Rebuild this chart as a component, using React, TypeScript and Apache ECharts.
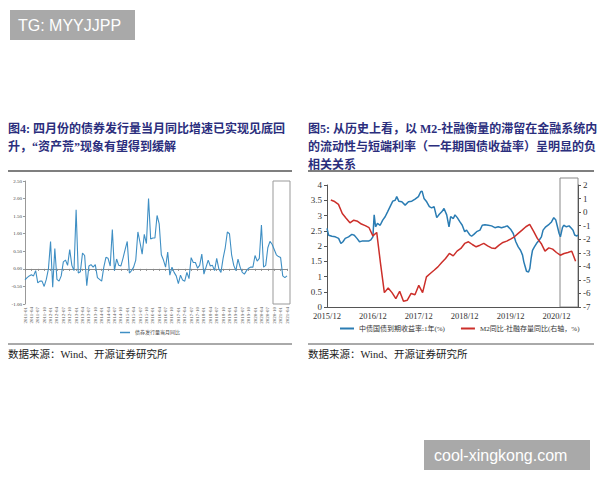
import React, { useEffect, useRef } from "react";
import * as echarts from "echarts";

// ---------- Left chart: bond issuance YoY (monthly, 2011-01 .. 2021-04)
const issueStartYear = 2011;
const issueCount = 124;
const issueMonths: string[] = [];
for (let i = 0; i < issueCount; i++) {
  const y = issueStartYear + Math.floor(i / 12);
  const m = (i % 12) + 1;
  issueMonths.push(`${y}-${m < 10 ? "0" + m : m}`);
}
const issueYoY = [
  -0.31, -0.25, -0.2, -0.17, -0.2, -0.05, -0.4, -0.35, -0.35, -0.5,
  -0.3, 0.0, 0.78, -0.52, 0.58, -0.3, -0.35, -0.2, 0.2, 0.25,
  0.1, 0.55, 0.1, -0.05, 1.68, -0.12, -0.08, 0.45, 0.38, -0.48,
  0.08, 0.12, 0.05, 0.12, -0.25, -0.3, -0.35, 0.05, 0.33, 0.3,
  0.08, 1.12, -0.05, 0.28, 0.1, 0.08, 0.3, 0.55, 0.78, -0.12,
  -0.05, 0.05, 0.25, 1.05, 0.75, 0.42, 0.98, 0.72, 2.0, 0.85,
  0.88, 0.88, 1.52, 1.28, 0.4, 0.25, 0.05, 0.48, -0.18, 0.05,
  -0.1, -0.2, -0.42, -0.18, -0.32, -0.35, -0.1, -0.28, 0.32, 0.18,
  0.18, 0.02, 0.1, 0.42, -0.15, 0.05, 0.25, 0.08, 0.1, -0.05,
  0.3, 0.0, -0.1, 0.3, 0.6, 1.05, 1.0, 0.4, 0.1, -0.05,
  0.28, 0.05, -0.1, -0.15, -0.05, 0.02, 0.05, 0.05, 0.38, 0.22,
  0.3, 1.25, 0.05, 0.1, 0.6, 0.78, 0.7, 0.55, 0.4, 0.35,
  0.32, -0.2, -0.25, -0.2,
];
const issueName = "债券发行量当月同比";

// ---------- Right chart: 1Y CGB yield (left axis) & M2-TSF gap (right axis)
const yieldName = "中债国债到期收益率:1年(%)";
const spreadName = "M2同比-社融存量同比(右轴，%)";
const yieldDates = [
  "2015-12-01", "2015-12-14", "2016-01-10", "2016-02-06", "2016-03-02", "2016-03-20", "2016-04-06", "2016-04-24",
  "2016-05-20", "2016-06-16", "2016-07-05", "2016-07-26", "2016-08-16", "2016-09-05", "2016-10-01", "2016-10-27",
  "2016-11-15", "2016-12-01", "2016-12-11", "2016-12-22", "2017-01-07", "2017-01-28", "2017-02-18", "2017-03-07",
  "2017-03-26", "2017-04-16", "2017-05-07", "2017-05-26", "2017-06-08", "2017-06-24", "2017-07-18", "2017-08-14",
  "2017-09-10", "2017-10-06", "2017-11-02", "2017-11-28", "2017-12-16", "2017-12-27", "2018-01-12", "2018-02-03",
  "2018-02-24", "2018-03-12", "2018-04-01", "2018-04-22", "2018-05-12", "2018-06-01", "2018-06-19", "2018-07-10",
  "2018-07-28", "2018-08-11", "2018-09-02", "2018-09-15", "2018-10-03", "2018-10-24", "2018-11-12", "2018-12-01",
  "2018-12-16", "2018-12-29", "2019-01-12", "2019-01-25", "2019-02-13", "2019-03-05", "2019-04-01", "2019-04-19",
  "2019-05-10", "2019-06-06", "2019-07-02", "2019-07-28", "2019-08-24", "2019-09-20", "2019-10-16", "2019-11-05",
  "2019-12-01", "2019-12-22", "2020-01-12", "2020-02-01", "2020-02-19", "2020-03-05", "2020-03-15", "2020-03-26",
  "2020-04-06", "2020-04-22", "2020-05-02", "2020-05-12", "2020-05-23", "2020-06-08", "2020-06-24", "2020-07-15",
  "2020-08-03", "2020-08-16", "2020-09-07", "2020-10-03", "2020-10-22", "2020-11-10", "2020-11-26", "2020-12-06",
  "2020-12-22", "2021-01-02", "2021-01-18", "2021-01-28", "2021-02-19", "2021-03-10", "2021-03-28", "2021-04-11",
  "2021-04-24", "2021-05-07", "2021-05-20",
];
const yieldValues = [
  2.58, 2.35, 2.32, 2.3, 2.25, 2.08, 2.14, 2.25,
  2.3, 2.38, 2.35, 2.25, 2.14, 2.16, 2.16, 2.16,
  2.2, 2.3, 3.02, 2.63, 2.74, 2.68, 2.85, 2.96,
  3.12, 3.29, 3.47, 3.5, 3.62, 3.47, 3.45, 3.34,
  3.45, 3.47, 3.54, 3.62, 3.78, 3.8, 3.56, 3.45,
  3.29, 3.25, 3.29, 2.93, 3.04, 3.12, 3.23, 3.02,
  2.63, 2.96, 2.9, 3.02, 2.93, 2.79, 2.68, 2.47,
  2.52, 2.44, 2.36, 2.32, 2.38, 2.47, 2.52, 2.68,
  2.7, 2.68, 2.66, 2.6, 2.63, 2.6, 2.63, 2.66,
  2.55, 2.41, 2.14, 1.97, 1.86, 1.7, 1.48, 1.32,
  1.17, 1.15, 1.26, 1.59, 1.86, 1.97, 2.08, 2.19,
  2.3, 2.52, 2.63, 2.71, 2.79, 2.93, 2.85, 2.68,
  2.41, 2.3, 2.6, 2.68, 2.63, 2.66, 2.58, 2.52,
  2.36, 2.33, 2.35,
];
const spreadStart = "2016-01";
const spreadValues = [
  0.89, 0.78, 0.57, -0.1, -0.45, -0.79, -0.6, -0.68, -0.88, -1.0,
  -1.15, -1.75, -1.5, -3.8, -5.94, -5.6, -5.94, -6.38, -5.84, -6.58,
  -6.5, -6.0, -6.1, -5.4, -5.94, -4.78, -4.53, -4.29, -4.04, -3.72,
  -3.42, -3.05, -3.23, -2.88, -2.68, -2.31, -2.19, -2.39, -2.56, -2.44,
  -2.31, -2.49, -2.64, -2.68, -2.44, -2.24, -2.14, -1.99, -1.82, -1.57,
  -1.33, -1.08, -0.91, -1.4, -1.94, -2.31, -2.88, -2.64, -2.73, -2.98,
  -3.18, -3.05, -2.98, -2.88, -3.62,
];
const axisStartYear = 2015; // x = months since 2015-12
const axisEndDate = "2021-05-20";

function monthIndex(date: string): number {
  const [y, m, d] = date.split("-").map(Number);
  return (y - axisStartYear) * 12 + (m - 12) + ((d || 1) - 1) / 30;
}

const titleLeft = "图4: 四月份的债券发行量当月同比增速已实现见底回\n升，“资产荒”现象有望得到缓解";
const titleRight = "图5: 从历史上看，以 M2-社融衡量的滞留在金融系统内\n的流动性与短端利率（一年期国债收益率）呈明显的负\n相关关系";
const sourceText = "数据来源：Wind、开源证券研究所";

const SERIF = '"Liberation Serif", "Noto Sans CJK SC", serif';
const CJK = '"Liberation Serif", "Noto Sans CJK SC", sans-serif';

export default function App() {
  const ref = useRef<HTMLDivElement>(null);
  useEffect(() => {
    if (!ref.current) return;
    const chart = echarts.init(ref.current, undefined, { renderer: "svg" });
    const [sy, sm] = spreadStart.split("-").map(Number);
    const spreadData = spreadValues.map((v, i) => {
      const mm = sm - 1 + i;
      const y = sy + Math.floor(mm / 12);
      const m = (mm % 12) + 1;
      return [monthIndex(`${y}-${m}-01`), v];
    });
    const yieldData = yieldDates.map((d, i) => [monthIndex(d), yieldValues[i]]);

    const option: any = {
      animation: false,
      backgroundColor: "#ffffff",
      grid: [
        { left: 25, right: 313, top: 181, bottom: 176 },
        { left: 327, right: 22, top: 185, bottom: 173 },
      ],
      xAxis: [
        {
          gridIndex: 0,
          type: "category",
          data: issueMonths,
          boundaryGap: false,
          position: "bottom",
          axisLine: { show: false, onZero: false },
          axisTick: { show: false },
          axisLabel: { interval: 2, rotate: 90, fontSize: 5, color: "#555", fontFamily: SERIF, margin: 3 },
        },
        {
          gridIndex: 0,
          type: "category",
          data: issueMonths,
          boundaryGap: false,
          position: "bottom",
          axisLine: { show: true, onZero: true, lineStyle: { color: "#8a8a8a", width: 1 } },
          axisTick: { show: true, interval: 2, length: 2, inside: false, lineStyle: { color: "#8a8a8a" } },
          axisLabel: { show: false },
        },
        {
          gridIndex: 1,
          type: "value",
          min: 0,
          max: monthIndex(axisEndDate),
          interval: 12,
          axisLine: { show: true, onZero: false, lineStyle: { color: "#555" } },
          axisTick: { show: false },
          splitLine: { show: false },
          axisLabel: {
            showMaxLabel: false,
            fontSize: 8.5,
            color: "#333",
            fontFamily: SERIF,
            margin: 5,
            formatter: (v: number) => `${axisStartYear + Math.round(v / 12)}/12`,
          },
        },
      ],
      yAxis: [
        {
          gridIndex: 0,
          type: "value",
          min: -1,
          max: 2.5,
          interval: 0.5,
          axisLine: { show: true, lineStyle: { color: "#999" } },
          axisTick: { show: true, length: 2, lineStyle: { color: "#999" } },
          splitLine: { show: false },
          axisLabel: { fontSize: 5, color: "#444", fontFamily: SERIF, margin: 3, formatter: (v: number) => v.toFixed(2) },
        },
        {
          gridIndex: 1,
          type: "value",
          min: 0,
          max: 4,
          interval: 0.5,
          axisLine: { show: true, lineStyle: { color: "#555" } },
          axisTick: { show: true, length: 3, lineStyle: { color: "#555" } },
          splitLine: { show: false },
          axisLabel: { fontSize: 9, color: "#333", fontFamily: SERIF, margin: 5 },
        },
        {
          gridIndex: 1,
          type: "value",
          position: "right",
          min: -7,
          max: 2,
          interval: 1,
          axisLine: { show: true, lineStyle: { color: "#555" } },
          axisTick: { show: true, length: 3, lineStyle: { color: "#555" } },
          splitLine: { show: false },
          axisLabel: { fontSize: 9, color: "#333", fontFamily: SERIF, margin: 5 },
        },
      ],
      legend: [
        {
          data: [issueName],
          left: 120,
          top: 330,
          padding: 0,
          icon: "rect",
          itemWidth: 10,
          itemHeight: 1.5,
          textStyle: { fontSize: 5, color: "#444", fontFamily: CJK },
        },
        {
          data: [yieldName, spreadName],
          left: 340,
          top: 325,
          width: 250,
          padding: 0,
          icon: "rect",
          itemWidth: 14,
          itemHeight: 2,
          itemGap: 16,
          textStyle: { fontSize: 7, color: "#333", fontFamily: CJK },
        },
      ],
      series: [
        {
          name: issueName,
          type: "line",
          xAxisIndex: 0,
          yAxisIndex: 0,
          data: issueYoY,
          symbol: "none",
          lineStyle: { color: "#3f8fc4", width: 1.1 },
          itemStyle: { color: "#3f8fc4" },
        },
        {
          name: yieldName,
          type: "line",
          xAxisIndex: 2,
          yAxisIndex: 1,
          data: yieldData,
          symbol: "none",
          lineStyle: { color: "#2a7cb3", width: 1.5 },
          itemStyle: { color: "#2a7cb3" },
        },
        {
          name: spreadName,
          type: "line",
          xAxisIndex: 2,
          yAxisIndex: 2,
          data: spreadData,
          symbol: "none",
          lineStyle: { color: "#cc2f2a", width: 1.5 },
          itemStyle: { color: "#cc2f2a" },
        },
      ],
      graphic: [
        // watermarks
        { type: "rect", shape: { x: 10, y: 10, width: 125, height: 30 }, style: { fill: "#a9a9a9" } },
        { type: "text", x: 18, y: 25, style: { text: "TG: MYYJJPP", fill: "#ffffff", fontSize: 16, fontFamily: "Liberation Sans, sans-serif", verticalAlign: "middle" } },
        { type: "rect", shape: { x: 424, y: 440, width: 166, height: 30 }, style: { fill: "#a9a9a9" } },
        { type: "text", x: 434, y: 455, style: { text: "cool-xingkong.com", fill: "#ffffff", fontSize: 16, fontFamily: "Liberation Sans, sans-serif", verticalAlign: "middle" } },
        // titles
        { type: "text", x: 8, y: 120, style: { text: titleLeft, fill: "#2b2e7d", fontSize: 12, fontWeight: "bold", fontFamily: CJK, lineHeight: 18 } },
        { type: "text", x: 308, y: 120, style: { text: titleRight, fill: "#2b2e7d", fontSize: 12, fontWeight: "bold", fontFamily: CJK, lineHeight: 18 } },
        // separators
        { type: "line", shape: { x1: 8, y1: 171, x2: 292, y2: 171 }, style: { stroke: "#555", lineWidth: 1.5 } },
        { type: "line", shape: { x1: 308, y1: 171, x2: 594, y2: 171 }, style: { stroke: "#555", lineWidth: 1.5 } },
        { type: "line", shape: { x1: 8, y1: 344, x2: 292, y2: 344 }, style: { stroke: "#555", lineWidth: 1 } },
        { type: "line", shape: { x1: 308, y1: 344, x2: 594, y2: 344 }, style: { stroke: "#555", lineWidth: 1 } },
        // sources
        { type: "text", x: 8, y: 349, style: { text: sourceText, fill: "#222", fontSize: 10.5, fontFamily: CJK } },
        { type: "text", x: 308, y: 349, style: { text: sourceText, fill: "#222", fontSize: 10.5, fontFamily: CJK } },
        // highlight boxes
        { type: "rect", shape: { x: 273, y: 181, width: 17, height: 123 }, style: { fill: "none", stroke: "#999", lineWidth: 1 } },
        { type: "rect", shape: { x: 560, y: 178, width: 18, height: 129 }, style: { fill: "none", stroke: "#888", lineWidth: 1 } },
      ],
    };
    chart.setOption(option);
    return () => chart.dispose();
  }, []);
  return (
    <div
      ref={ref}
      style={{ position: "fixed", left: 0, top: 0, width: 600, height: 480, background: "#fff" }}
    />
  );
}
